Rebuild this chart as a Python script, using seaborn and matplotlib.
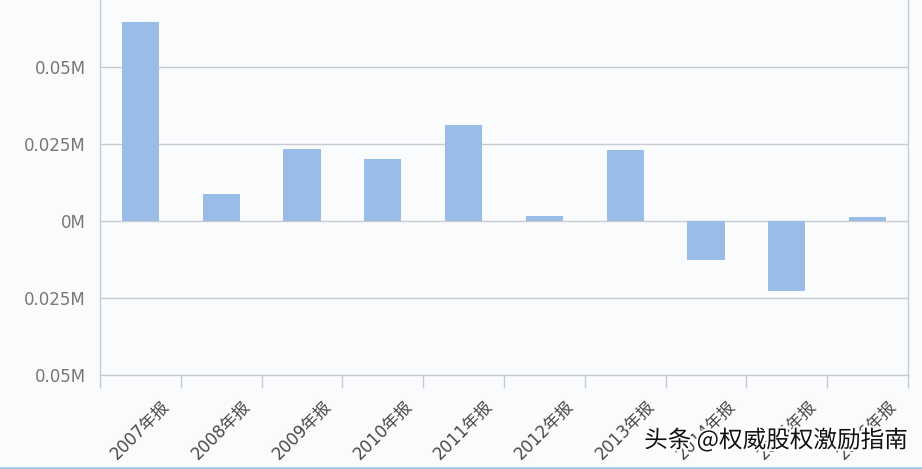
"""Recreate the annual-report bar chart (values in millions)."""

import matplotlib

matplotlib.use("Agg")

import matplotlib.pyplot as plt
import matplotlib.patheffects as pe
import seaborn as sns
from matplotlib.lines import Line2D
from matplotlib.ticker import FixedLocator, FuncFormatter

categories = ["2007年报", "2008年报", "2009年报", "2010年报", "2011年报",
              "2012年报", "2013年报", "2014年报", "2015年报", "2016年报"]
values = [0.0646, 0.0088, 0.0234, 0.0201, 0.0312,
          0.0016, 0.0231, -0.0127, -0.0227, 0.0013]
y_ticks = [-0.05, -0.025, 0.0, 0.025, 0.05]
watermark = "头条 @权威股权激励指南"

BG = "#fafbfd"
BAR = "#99bde6"
GRID = "#c8ccd2"

sns.set_theme(style="white")
plt.rcParams["font.family"] = ["DejaVu Sans", "Noto Sans CJK SC"]

fig = plt.figure(figsize=(9.22, 4.69), dpi=100, facecolor=BG)
ax = fig.add_axes([100 / 922, 94 / 469, 808 / 922, 375 / 469])
ax.set_facecolor(BG)

sns.barplot(x=categories, y=values, color=BAR, saturation=1, width=0.46,
            linewidth=0, ax=ax)

ax.set_xlim(-0.5, len(categories) - 0.5)
ax.set_ylim(-0.05, 0.0718)
ax.yaxis.set_major_locator(FixedLocator(y_ticks))
ax.yaxis.set_major_formatter(FuncFormatter(lambda v, _: "0M" if abs(v) < 1e-9 else f"{abs(v):g}M"))
ax.grid(axis="y", color=GRID, linewidth=1)
ax.set_axisbelow(True)

ax.tick_params(axis="y", length=0, pad=10, labelsize=12, labelcolor="#777777")
ax.tick_params(axis="x", which="major", length=0, pad=16, labelsize=12, labelcolor="#4a4a4a")
ax.set_xticks([i - 0.5 for i in range(len(categories) + 1)], minor=True)
ax.tick_params(axis="x", which="minor", bottom=True, length=9, color=GRID, width=1,
               direction="out")
for lbl in ax.get_xticklabels():
    lbl.set_rotation(45)
    lbl.set_ha("center")

for side in ["left", "right", "bottom"]:
    ax.spines[side].set_color(GRID)
    ax.spines[side].set_linewidth(1)
ax.spines["top"].set_visible(False)
ax.set_xlabel("")
ax.set_ylabel("")

fig.text(908 / 922, 1 - 440 / 469, watermark, ha="right", va="center",
         fontsize=17, color="#111111", family=["Noto Sans CJK SC", "DejaVu Sans"],
         path_effects=[pe.withStroke(linewidth=3, foreground="white")])
fig.add_artist(Line2D([0, 1], [1.5 / 469, 1.5 / 469], color="#a9cbe8", linewidth=2,
                      transform=fig.transFigure))

fig.savefig("out.png", dpi=100, facecolor=BG)
